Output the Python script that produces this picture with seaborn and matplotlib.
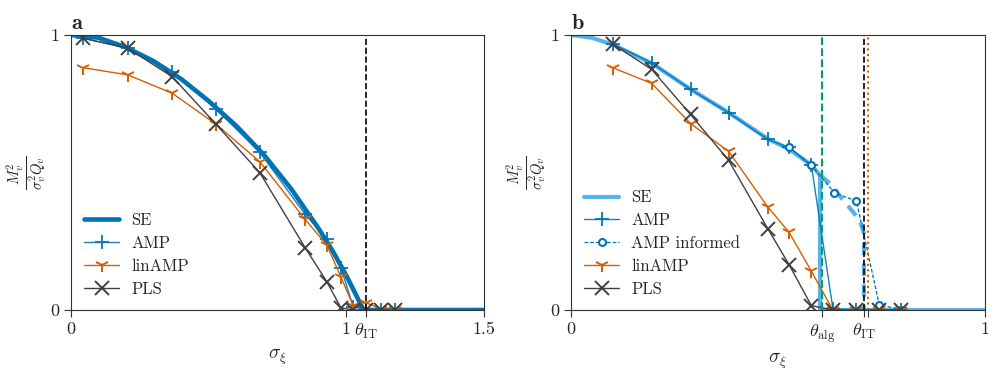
import numpy as np
import pandas as pd
import matplotlib
matplotlib.use("Agg")
import matplotlib.pyplot as plt
import seaborn as sns

# ---- panel a data (sigma_xi vs normalised overlap) ----
se_a_x = [0.0, 0.1, 0.2, 0.3, 0.4, 0.5, 0.6, 0.7, 0.8, 0.9, 0.95, 1.0, 1.03, 1.062, 1.5]
se_a_y = [1.0, 0.99, 0.955, 0.905, 0.84, 0.76, 0.67, 0.565, 0.44, 0.295, 0.215, 0.125, 0.065, 0.0, 0.0]

pts_a_x = [0.045, 0.206, 0.368, 0.527, 0.686, 0.85, 0.929, 0.98, 1.025, 1.07, 1.125, 1.177]
amp_a = [0.988, 0.952, 0.867, 0.730, 0.573, 0.348, 0.258, 0.154, 0.012, 0.0, 0.0, 0.0]
linamp_a = [0.881, 0.855, 0.788, 0.675, 0.539, 0.330, 0.236, 0.121, 0.015, 0.027, 0.004, 0.0]
pls_a = [0.988, 0.952, 0.848, 0.675, 0.499, 0.227, 0.103, 0.008, 0.0, 0.0, 0.0, 0.0]
theta_it_a = 1.07

# ---- panel b data ----
se_b_x = [0.0, 0.05, 0.101, 0.195, 0.289, 0.381, 0.476, 0.527, 0.581, 0.602, 0.602, 1.0]
se_b_y = [1.0, 0.99, 0.965, 0.897, 0.803, 0.718, 0.622, 0.585, 0.527, 0.49, 0.0, 0.0]
se_inf_x = [0.602, 0.63, 0.657, 0.68, 0.698, 0.708, 0.708]
se_inf_y = [0.49, 0.455, 0.40, 0.36, 0.325, 0.28, 0.0]

pts_b_x = [0.101, 0.195, 0.289, 0.381, 0.476, 0.527, 0.581, 0.633, 0.69, 0.744, 0.798]
amp_b = [0.967, 0.899, 0.802, 0.717, 0.620, 0.591, 0.526, 0.005, 0.0, 0.0, 0.0]
linamp_b = [0.881, 0.824, 0.678, 0.577, 0.374, 0.283, 0.141, 0.0, 0.0, 0.0, 0.0]
pls_b = [0.967, 0.875, 0.711, 0.544, 0.295, 0.165, 0.016, 0.0, 0.0, 0.0, 0.0]
inf_b_x = [0.527, 0.581, 0.636, 0.69, 0.745, 0.798]
inf_b = [0.591, 0.526, 0.427, 0.396, 0.02, 0.0]
theta_alg = 0.607
theta_it_b = 0.708
theta_lin = 0.717

# colours (seaborn colorblind palette)
pal = sns.color_palette("colorblind")
c_amp = pal[0]
c_se_b = pal[9]
c_lin = pal[3]
c_green = pal[2]
c_pls = "#404040"

sns.set_theme(style="ticks")
plt.rcParams["font.family"] = ["cmr10", "DejaVu Serif"]
plt.rcParams["mathtext.fontset"] = "cm"
plt.rcParams["axes.formatter.use_mathtext"] = True
plt.rcParams["font.size"] = 12

fig = plt.figure(figsize=(9.97, 3.75), dpi=100)
ax_a = fig.add_axes([0.0712, 0.1733, 0.4143, 0.7334])
ax_b = fig.add_axes([0.5727, 0.1733, 0.415, 0.7334])


def line(ax, x, y, color, **kw):
    # seaborn paints marker edges white by default, keep them coloured
    sns.lineplot(x=x, y=y, ax=ax, sort=False, estimator=None, color=color,
                 markeredgecolor=color, **kw)


mk = dict(lw=1.0, markersize=10, markeredgewidth=1.4)

# panel a
line(ax_a, se_a_x, se_a_y, c_amp, lw=3.3, label="SE")
line(ax_a, pts_a_x, amp_a, c_amp, marker="+", alpha=0.9, label="AMP", **mk)
line(ax_a, pts_a_x, linamp_a, c_lin, marker="1", label="linAMP", **mk)
line(ax_a, pts_a_x, pls_a, c_pls, marker="x", label="PLS", **mk)
ax_a.axvline(theta_it_a, color="black", ls="--", lw=1.2)
ax_a.set_xlim(0, 1.5)
ax_a.set_xticks([0, 1, theta_it_a, 1.5])
ax_a.set_xticklabels(["0", "1", r"$\theta_{\mathrm{IT}}$", "1.5"])

# panel b
line(ax_b, se_b_x, se_b_y, c_se_b, lw=3, label="SE")
line(ax_b, se_inf_x, se_inf_y, c_se_b, lw=3, linestyle=(0, (3, 2)))
line(ax_b, pts_b_x, amp_b, c_amp, marker="+", alpha=0.9, label="AMP", **mk)
line(ax_b, inf_b_x, inf_b, c_amp, marker="o", linestyle=(0, (3, 1.5)), lw=0.9,
     markersize=5, markeredgewidth=1.5, markerfacecolor="white", label="AMP informed")
line(ax_b, pts_b_x, linamp_b, c_lin, marker="1", label="linAMP", **mk)
line(ax_b, pts_b_x, pls_b, c_pls, marker="x", label="PLS", **mk)
ax_b.axvline(theta_alg, color=c_green, ls="--", lw=1.5)
ax_b.axvline(theta_it_b, color="black", ls="--", lw=1.2)
ax_b.axvline(theta_lin, color=c_lin, ls=":", lw=1.5)
ax_b.set_xlim(0, 1)
ax_b.set_xticks([0, theta_alg, theta_it_b, theta_lin, 1])
ax_b.set_xticklabels(["0", r"$\theta_{\mathrm{alg}}$", r"$\theta_{\mathrm{IT}}$", "", "1"])

for ax, tag in [(ax_a, "a"), (ax_b, "b")]:
    ax.set_ylim(0, 1)
    ax.set_yticks([0, 1])
    ax.set_yticklabels(["0", "1"])
    ax.set_xlabel(r"$\sigma_\xi$", fontsize=14)
    ax.set_ylabel(r"$\frac{M_v^2}{\sigma_v^2 Q_v}$", fontsize=15)
    ax.yaxis.set_label_coords(-0.05, 0.5)
    ax.tick_params(labelsize=13, length=5, width=0.8, color="#333333")
    for s in ax.spines.values():
        s.set_visible(True)
        s.set_linewidth(0.8)
        s.set_color("#333333")
    ax.set_title(r"$\mathbf{" + tag + "}$", loc="left", fontsize=16, pad=4)
    ax.legend(loc="lower left", frameon=False, fontsize=12, handlelength=2.1,
              handletextpad=0.7, borderaxespad=0.4, labelspacing=0.45)

fig.savefig("out.png", dpi=100)
